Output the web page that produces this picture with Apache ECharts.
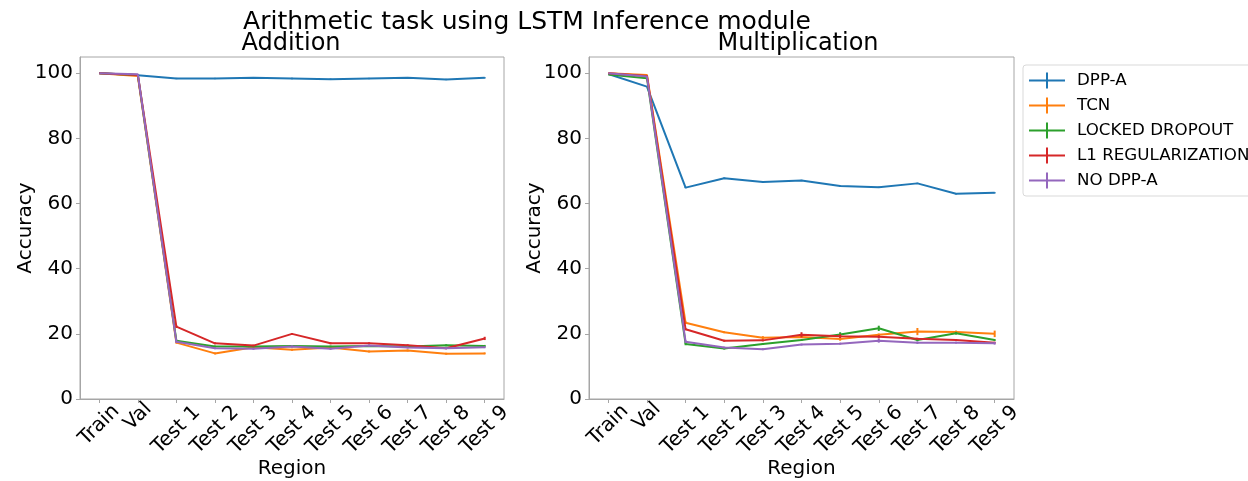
<!DOCTYPE html>
<html>
<head>
<meta charset="utf-8">
<script src="https://cdn.jsdelivr.net/npm/echarts@6/dist/echarts.min.js"></script>
<style>
  html, body { margin: 0; padding: 0; background: #fff; }
  #chart { width: 1248px; height: 481px; }
</style>
</head>
<body>
<div id="chart"></div>
<script>
// --- DATA ---
const regions = ['Train', 'Val', 'Test 1', 'Test 2', 'Test 3', 'Test 4', 'Test 5', 'Test 6', 'Test 7', 'Test 8', 'Test 9'];
const yTicks = [0, 20, 40, 60, 80, 100];
const methods = ['DPP-A', 'TCN', 'LOCKED DROPOUT', 'L1 REGULARIZATION', 'NO DPP-A'];

// Addition
const dppA_add   = [100, 99.4, 98.4, 98.4, 98.6, 98.4, 98.2, 98.4, 98.6, 98.1, 98.6];
const tcn_add    = [100, 99.2, 17.3, 14.0, 15.9, 15.1, 15.8, 14.6, 14.9, 13.9, 14.0];
const locked_add = [100, 99.5, 17.9, 16.1, 16.1, 16.3, 16.1, 16.3, 16.1, 16.5, 16.3];
const l1_add     = [100, 99.5, 22.2, 17.1, 16.4, 20.0, 17.1, 17.1, 16.5, 15.6, 18.6];
const noDpp_add  = [100, 99.7, 17.6, 15.6, 15.4, 16.1, 15.4, 16.4, 15.8, 15.6, 15.9];

// Multiplication
const dppA_mul   = [99.8, 95.9, 64.9, 67.8, 66.6, 67.1, 65.4, 65.0, 66.2, 63.0, 63.3];
const tcn_mul    = [100, 99.5, 23.4, 20.5, 18.8, 19.0, 18.4, 19.7, 20.7, 20.6, 20.0];
const locked_mul = [99.6, 98.5, 16.9, 15.5, 16.9, 18.1, 19.8, 21.7, 18.1, 20.2, 18.1];
const l1_mul     = [100, 99.2, 21.4, 17.9, 18.0, 19.7, 19.3, 19.1, 18.5, 18.1, 17.3];
const noDpp_mul  = [100, 99.0, 17.6, 15.8, 15.3, 16.7, 17.0, 17.9, 17.3, 17.3, 17.1];

// error (half length)
const dppA_add_err   = [0, 0, 0.2, 0.2, 0.2, 0.2, 0.2, 0.2, 0.2, 0.2, 0.2];
const tcn_add_err    = [0, 0, 0.3, 0.3, 0.3, 0.3, 0.3, 0.3, 0.3, 0.3, 0.3];
const locked_add_err = [0, 0, 0.3, 0.3, 0.3, 0.3, 0.3, 0.3, 0.3, 0.3, 0.3];
const l1_add_err     = [0, 0, 0.4, 0.3, 0.3, 0.3, 0.3, 0.3, 0.3, 0.3, 0.5];
const noDpp_add_err  = [0, 0, 0.4, 0.3, 0.3, 0.3, 0.3, 0.3, 0.3, 0.3, 0.3];

const dppA_mul_err   = [0, 0, 0.2, 0.2, 0.2, 0.2, 0.2, 0.2, 0.2, 0.2, 0.2];
const tcn_mul_err    = [0, 0, 0.4, 0.3, 0.5, 0.3, 0.5, 0.4, 1.1, 0.4, 1.0];
const locked_mul_err = [0, 0, 0.4, 0.3, 0.3, 0.3, 0.7, 0.8, 0.3, 0.4, 0.3];
const l1_mul_err     = [0, 0, 0.3, 0.3, 0.3, 0.8, 0.6, 0.5, 0.3, 0.3, 0.3];
const noDpp_mul_err  = [0, 0, 0.4, 0.3, 0.3, 0.3, 0.3, 0.6, 0.4, 0.3, 0.4];

const colors = ['#1f77b4', '#ff7f0e', '#2ca02c', '#d62728', '#9467bd'];

// --- STYLE ---
const FONT = 'DejaVu Sans';
const SPINE = '#a6a6a6';

const addSets = [dppA_add, tcn_add, locked_add, l1_add, noDpp_add];
const mulSets = [dppA_mul, tcn_mul, locked_mul, l1_mul, noDpp_mul];
const addErr = [dppA_add_err, tcn_add_err, locked_add_err, l1_add_err, noDpp_add_err];
const mulErr = [dppA_mul_err, tcn_mul_err, locked_mul_err, l1_mul_err, noDpp_mul_err];

function xAxis(gridIndex) {
    return {
        type: 'category', gridIndex: gridIndex, data: regions, boundaryGap: true,
        name: 'Region', nameLocation: 'middle', nameGap: 60, nameMoveOverlap: false,
        nameTextStyle: { fontFamily: FONT, fontSize: 20, color: '#000' },
        axisLine: { show: true, lineStyle: { color: SPINE, width: 1 } },
        axisTick: { show: true, alignWithLabel: true, length: 4, lineStyle: { color: SPINE } },
        axisLabel: {
            rotate: 45, align: 'center', verticalAlign: 'middle', margin: 31,
            fontFamily: FONT, fontSize: 20, color: '#000', interval: 0,
            // Train / Val are shorter: pad them so their centres sit higher, like matplotlib
            formatter: v => v === 'Train' ? '{r|' + v + '}' : (v === 'Val' ? '{v|' + v + '}' : '{t|' + v + '}'),
            rich: {
                t: { fontFamily: FONT, fontSize: 20, color: '#000' },
                r: { fontFamily: FONT, fontSize: 20, color: '#000', padding: [0, 0, 7, 7] },
                v: { fontFamily: FONT, fontSize: 20, color: '#000', padding: [0, 0, 19, 19] }
            }
        },
        splitLine: { show: false }
    };
}

function yAxis(gridIndex) {
    return {
        type: 'value', gridIndex: gridIndex, min: 0, max: 105, interval: 20,
        name: 'Accuracy', nameLocation: 'middle', nameGap: 44, nameMoveOverlap: false,
        nameTextStyle: { fontFamily: FONT, fontSize: 20, color: '#000' },
        axisLine: { show: true, lineStyle: { color: SPINE, width: 1 } },
        axisTick: { show: true, length: 4, lineStyle: { color: SPINE }, customValues: yTicks },
        axisLabel: { margin: 7, fontFamily: FONT, fontSize: 20, color: '#000', customValues: yTicks },
        splitLine: { show: false }
    };
}

function lineSeries(sets, idx) {
    return sets.map((d, i) => ({
        name: methods[i], type: 'line', xAxisIndex: idx, yAxisIndex: idx,
        data: d, symbol: 'none', color: colors[i], z: 3 + i,
        lineStyle: { width: 2, color: colors[i] }
    }));
}

function errSeries(sets, errs, idx) {
    return sets.map((d, i) => ({
        name: methods[i] + ' err', type: 'custom', xAxisIndex: idx, yAxisIndex: idx, z: 3 + i,
        data: d.map((v, j) => [j, v, errs[i][j]]),
        renderItem: (params, api) => {
            const e = api.value(2);
            if (!e) return null;
            const a = api.coord([api.value(0), api.value(1) - e]);
            const b = api.coord([api.value(0), api.value(1) + e]);
            return { type: 'line', shape: { x1: a[0], y1: a[1], x2: b[0], y2: b[1] },
                     style: { stroke: colors[i], lineWidth: 2 } };
        }
    }));
}

const crossIcon = 'path://M0,7L36,7L36,9L0,9ZM17,0L19,0L19,16L17,16Z';

const chart = echarts.init(document.getElementById('chart'));
chart.setOption({
    animation: false,
    backgroundColor: '#fff',
    graphic: [
        { type: 'text', x: 527, y: 22, style: { text: 'Arithmetic task using LSTM Inference module', fontFamily: FONT, fontSize: 25, fill: '#000', align: 'center', verticalAlign: 'middle' } },
        { type: 'text', x: 291, y: 44, style: { text: 'Addition', fontFamily: FONT, fontSize: 24, fill: '#000', align: 'center', verticalAlign: 'middle' } },
        { type: 'text', x: 798, y: 44, style: { text: 'Multiplication', fontFamily: FONT, fontSize: 24, fill: '#000', align: 'center', verticalAlign: 'middle' } }
    ],
    grid: [
        { left: 80, top: 57, width: 424, height: 342, show: true, borderColor: SPINE, borderWidth: 1, backgroundColor: 'transparent', outerBoundsMode: 'none' },
        { left: 589, top: 57, width: 425, height: 342, show: true, borderColor: SPINE, borderWidth: 1, backgroundColor: 'transparent', outerBoundsMode: 'none' }
    ],
    xAxis: [xAxis(0), xAxis(1)],
    yAxis: [yAxis(0), yAxis(1)],
    legend: {
        orient: 'vertical', left: 1023, top: 65,
        itemWidth: 36, itemHeight: 16, itemGap: 8,
        padding: [7, 12, 7, 6],
        borderColor: '#d9d9d9', borderWidth: 1, borderRadius: 3,
        backgroundColor: '#fff',
        textStyle: { fontFamily: FONT, fontSize: 16.7, color: '#000', lineHeight: 16, padding: [0, 0, 0, 7] },
        data: methods.map(m => ({ name: m, icon: crossIcon }))
    },
    series: [].concat(
        lineSeries(addSets, 0), errSeries(addSets, addErr, 0),
        lineSeries(mulSets, 1), errSeries(mulSets, mulErr, 1)
    )
});
</script>
</body>
</html>
